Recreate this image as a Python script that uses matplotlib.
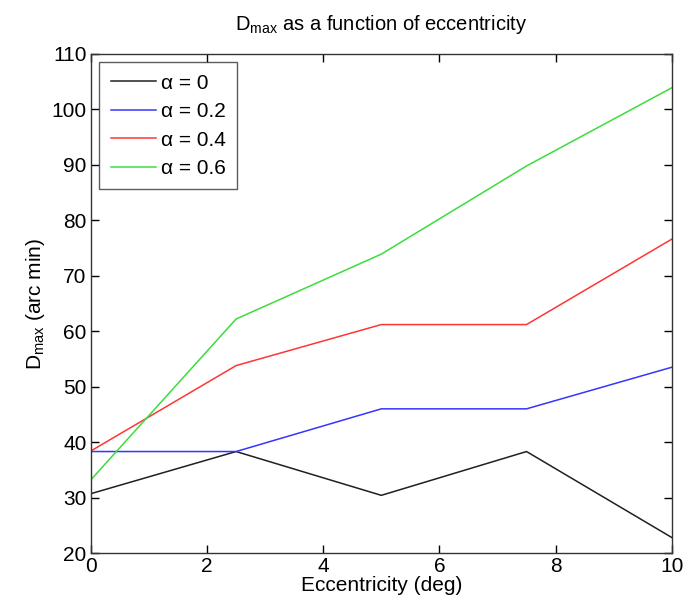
import matplotlib
matplotlib.use('Agg')
import matplotlib.pyplot as plt

# eccentricity (deg)
ecc = [0, 2.5, 5, 7.5, 10]

# D_max (arc min) for each alpha
d_alpha0 = [30.7, 38.3, 30.4, 38.3, 22.8]
d_alpha02 = [38.3, 38.3, 46.0, 46.0, 53.5]
d_alpha04 = [38.4, 53.8, 61.2, 61.2, 76.6]
d_alpha06 = [33.2, 62.2, 73.9, 89.8, 103.9]

labels = ['\u03b1 = 0', '\u03b1 = 0.2', '\u03b1 = 0.4', '\u03b1 = 0.6']
colors = ['#202020', '#3535ff', '#ff3535', '#3ddc3d']

plt.rcParams['font.family'] = ['Liberation Sans', 'DejaVu Sans']
plt.rcParams['mathtext.fontset'] = 'custom'
plt.rcParams['mathtext.rm'] = 'Liberation Sans'
plt.rcParams['mathtext.it'] = 'Liberation Sans'

fig = plt.figure(figsize=(6.99, 6.12), dpi=100)
ax = fig.add_axes([0.130, 0.0964, 0.831, 0.8154])

for ys, lab, c in zip([d_alpha0, d_alpha02, d_alpha04, d_alpha06], labels, colors):
    ax.plot(ecc, ys, color=c, lw=1.1, label=lab)

ax.set_xlim(0, 10)
ax.set_ylim(20, 110)
ax.set_xticks(range(0, 11, 2))
ax.set_yticks(range(20, 111, 10))
ax.tick_params(direction='in', top=True, right=True, labelsize=15, length=6, width=1, pad=3)
for s in ax.spines.values():
    s.set_linewidth(1.0)
    s.set_color('#333333')

ax.set_title('D$_{\\mathrm{max}}$ as a function of eccentricity', fontsize=14.5, pad=17)
ax.set_xlabel('Eccentricity (deg)', fontsize=15, labelpad=0)
ax.set_ylabel('D$_{\\mathrm{max}}$ (arc min)', fontsize=15, labelpad=3)

leg = ax.legend(loc='upper left', fontsize=15, frameon=True, fancybox=False,
                edgecolor='#333333', handlelength=2.2, handletextpad=0.2,
                labelspacing=0.45, borderpad=0.55, borderaxespad=0.4)
leg.get_frame().set_linewidth(1.0)

fig.savefig('out.png', dpi=100)
